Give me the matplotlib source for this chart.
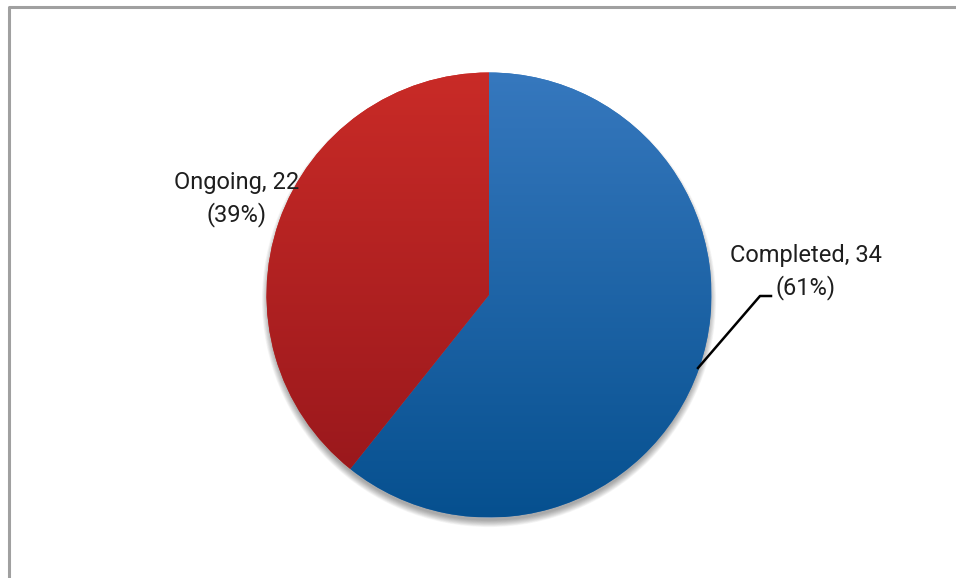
import matplotlib.pyplot as plt
import numpy as np
from matplotlib.patches import Circle
from matplotlib.colors import LinearSegmentedColormap

labels = ["Completed", "Ongoing"]
counts = [34, 22]
top_colors = ["#3678BE", "#C92B27"]
bottom_colors = ["#06508F", "#95161B"]

W, H = 956, 578
fig = plt.figure(figsize=(W / 100, H / 100), dpi=100)
ax = fig.add_axes([0, 0, 1, 1])

cx, cy, r = 489, H - 295, 222.5

# outer frame (left and top edges only are visible)
ax.plot([9, 9, W], [0, H - 7, H - 7], color="#A0A0A0", lw=2.2, solid_capstyle="butt")

# soft shadow below the pie
for i in range(12):
    ax.add_patch(Circle((cx, cy - 5), r - 2 + i * 0.6, color="black",
                        alpha=0.03, lw=0, zorder=1))

wedges, _ = ax.pie(counts, center=(cx, cy), radius=r, startangle=90,
                   counterclock=False, colors=top_colors,
                   wedgeprops=dict(lw=0), frame=True)
ax.set_aspect("equal")
ax.axis("off")

# vertical gradient fill for each slice
for w, c0, c1 in zip(wedges, top_colors, bottom_colors):
    w.set_zorder(2)
    cmap = LinearSegmentedColormap.from_list("g", [c1, c0])
    grad = np.linspace(0, 1, 256).reshape(-1, 1)
    im = ax.imshow(grad, cmap=cmap, origin="lower", aspect="auto",
                   extent=(cx - r, cx + r, cy - r, cy + r), zorder=3)
    im.set_clip_path(w)
ax.set_xlim(0, W)
ax.set_ylim(0, H)

total = sum(counts)
pcts = [round(100 * c / total) for c in counts]
font = dict(family="Roboto", fontsize=17, color="#1E1E1E")

ax.text(806, H - 272, f"{labels[0]}, {counts[0]}\n({pcts[0]}%)", ha="center",
        va="center", linespacing=1.45, zorder=5, **font)
ax.text(237, H - 199, f"{labels[1]}, {counts[1]}\n({pcts[1]}%)", ha="center",
        va="center", linespacing=1.4, zorder=5, **font)

# leader line for the completed slice
ax.plot([698, 760, 771], [H - 368, H - 296, H - 296], color="black", lw=1.8, zorder=5)

fig.savefig("out.png", dpi=100, facecolor="white")
